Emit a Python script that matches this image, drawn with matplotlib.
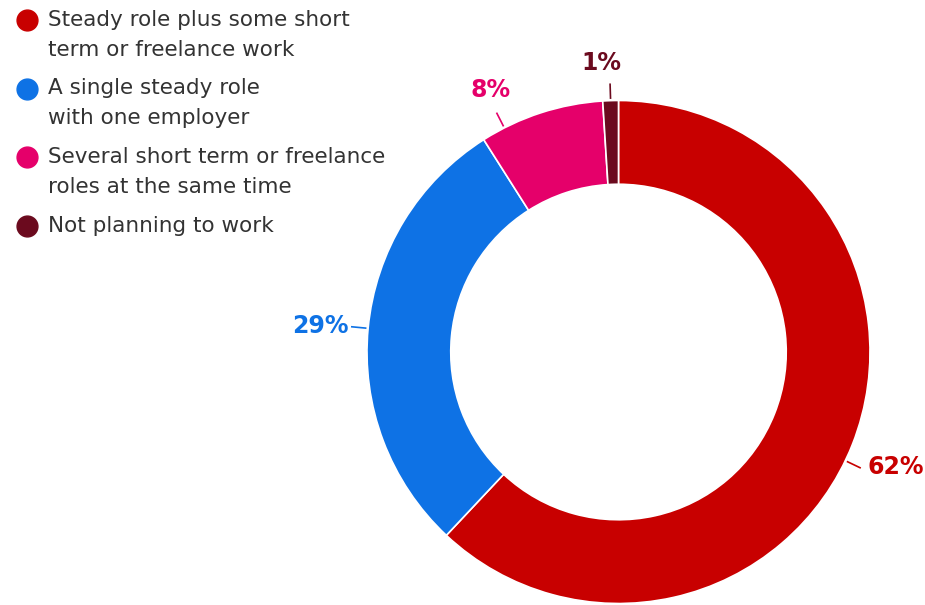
import matplotlib
matplotlib.use('Agg')
import matplotlib.pyplot as plt
import numpy as np

categories = ["Steady role plus some short\nterm or freelance work",
              "A single steady role\nwith one employer",
              "Several short term or freelance\nroles at the same time",
              "Not planning to work"]
values = [62, 29, 8, 1]
colors = ["#C80000", "#0E72E5", "#E5006A", "#6B0A1E"]
pct_labels = ["62%", "29%", "8%", "1%"]
# small angle / radius tweaks so labels don't collide (like the original layout)
label_nudge = [-1.0, 0.5, 8, 1.5]
label_r = [1.195, 1.19, 1.16, 1.15]
leader_nudge = [-4, 0, 9, 0]

plt.rcParams['font.family'] = ['DejaVu Sans']

W, H = 925, 605
fig = plt.figure(figsize=(W / 100, H / 100), dpi=100)
ax = fig.add_axes([0, 0, 1, 1])

cx, cy, R = 618.5, H - 352, 251.5
wedges, _ = ax.pie(values, colors=colors, startangle=90, counterclock=False,
                   center=(cx, cy), radius=R,
                   wedgeprops=dict(width=R * 0.333, edgecolor='white', linewidth=1.2))
ax.set_xlim(0, W)
ax.set_ylim(0, H)
ax.set_aspect('equal')
ax.axis('off')

# percentage labels with short leader lines
for i, (w, lab, col) in enumerate(zip(wedges, pct_labels, colors)):
    mid = (w.theta1 + w.theta2) / 2
    a = np.deg2rad(mid + leader_nudge[i])
    ax.plot([cx + R * 1.01 * np.cos(a), cx + R * 1.065 * np.cos(a)],
            [cy + R * 1.01 * np.sin(a), cy + R * 1.065 * np.sin(a)], color=col, lw=1.2)
    a = np.deg2rad(mid + label_nudge[i])
    ax.text(cx + R * label_r[i] * np.cos(a), cy + R * label_r[i] * np.sin(a), lab,
            color=col, fontsize=17, fontweight='bold', ha='center', va='center')

# legend drawn by hand so the dot sits on the first line
y = H - 20
for cat, col in zip(categories, colors):
    ax.plot(27, y, 'o', color=col, markersize=15)
    lines = cat.split("\n")
    for i, ln in enumerate(lines):
        ax.text(48, y - i * 30, ln, color='#333333', fontsize=15.5,
                ha='left', va='center')
    y -= len(lines) * 30 + 8.5

fig.savefig('out.png', dpi=100)
